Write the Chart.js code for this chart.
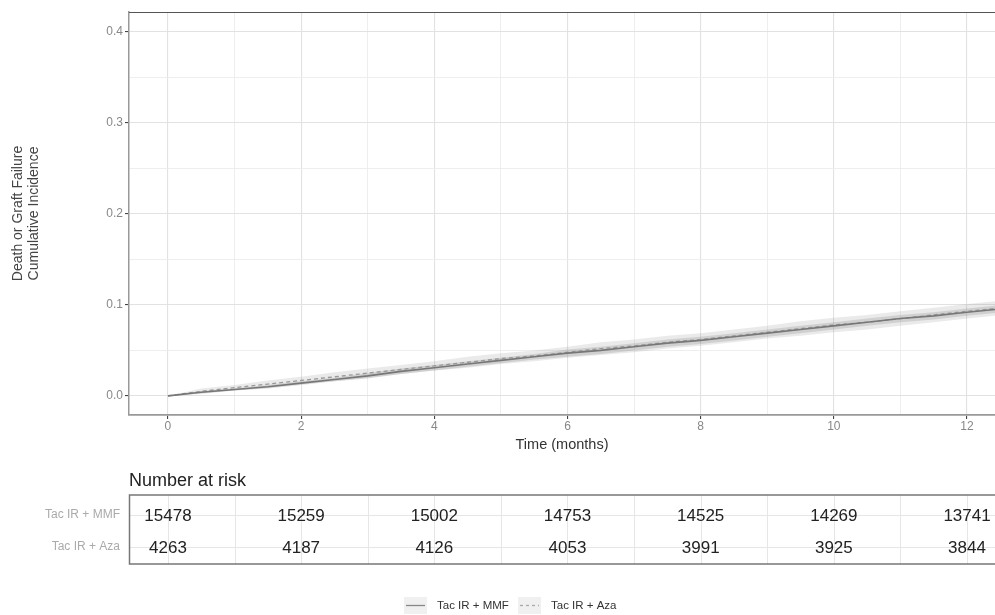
<!DOCTYPE html>
<html><head><meta charset="utf-8">
<script src="https://cdn.jsdelivr.net/npm/chart.js@4"></script>
<style>html,body{margin:0;padding:0;background:#fff;overflow:hidden}#wrap{width:995px;height:615px;position:relative}</style>
</head><body><div id="wrap"><canvas id="c" width="995" height="615"></canvas></div>
<script>
// ---- data ----
const months = [0,0.5,1,1.5,2,2.5,3,3.5,4,4.5,5,5.5,6,6.5,7,7.5,8,8.5,9,9.5,10,10.5,11,11.5,12,12.42];
const mmf    = [0,0.004,0.007,0.010,0.014,0.018,0.022,0.027,0.031,0.035,0.039,0.043,0.047,0.050,0.054,0.058,0.061,0.065,0.069,0.073,0.077,0.081,0.085,0.088,0.092,0.095];
const mmfLow = [0,0.003,0.006,0.008,0.012,0.016,0.019,0.024,0.028,0.032,0.036,0.040,0.043,0.046,0.050,0.054,0.057,0.061,0.065,0.069,0.073,0.077,0.081,0.084,0.088,0.091];
const mmfUp  = [0,0.005,0.008,0.012,0.016,0.020,0.025,0.030,0.034,0.038,0.042,0.046,0.051,0.054,0.058,0.062,0.065,0.069,0.073,0.077,0.081,0.085,0.089,0.092,0.096,0.099];
const aza    = [0,0.005,0.009,0.013,0.017,0.021,0.025,0.029,0.033,0.037,0.041,0.044,0.048,0.052,0.055,0.059,0.062,0.066,0.070,0.074,0.078,0.081,0.085,0.089,0.093,0.096];
const azaLow = [0,0.002,0.006,0.009,0.013,0.016,0.020,0.024,0.028,0.031,0.035,0.038,0.042,0.045,0.048,0.052,0.055,0.059,0.063,0.066,0.070,0.073,0.077,0.081,0.085,0.088];
const azaUp  = [0,0.008,0.012,0.017,0.021,0.026,0.030,0.034,0.038,0.043,0.047,0.050,0.054,0.059,0.062,0.066,0.069,0.073,0.077,0.082,0.086,0.089,0.093,0.097,0.101,0.104];

const groups = ['Tac IR + MMF', 'Tac IR + Aza'];
const xTickValues = [0,1,2,3,4,5,6,7,8,9,10,11,12];
const xMajorLabels = {0:'0',2:'2',4:'4',6:'6',8:'8',10:'10',12:'12'};
const yTickValues = [0,0.05,0.1,0.15,0.2,0.25,0.3,0.35,0.4];
const yMajorLabels = {'0':'0.0','0.1':'0.1','0.2':'0.2','0.3':'0.3','0.4':'0.4'};
const riskTimes = [0,2,4,6,8,10,12];
const riskMMF = [15478,15259,15002,14753,14525,14269,13741];
const riskAza = [4263,4187,4126,4053,3991,3925,3844];

const FONT = '"Liberation Sans", Arial, sans-serif';
const pts = (ys) => months.map((m,i) => ({x:m, y:ys[i]}));
const isMajorX = v => Object.prototype.hasOwnProperty.call(xMajorLabels, String(Math.round(v*100)/100));
const yKey = v => String(Math.round(v*100)/100);
const isMajorY = v => Object.prototype.hasOwnProperty.call(yMajorLabels, yKey(v)) && Math.abs(v*10 - Math.round(v*10)) < 1e-6;

const extras = {
  id: 'extras',
  afterDraw(chart) {
    const ctx = chart.ctx;
    const xs = chart.scales.x;
    const ca = chart.chartArea;
    ctx.save();
    // top panel border
    ctx.strokeStyle = '#555'; ctx.lineWidth = 1;
    ctx.beginPath(); ctx.moveTo(ca.left, ca.top + 0.5); ctx.lineTo(ca.right, ca.top + 0.5); ctx.stroke();

    // risk table
    const boxTop = 495, boxBot = 564, rowY = [515, 547];
    ctx.fillStyle = '#222';
    ctx.font = '18px ' + FONT;
    ctx.textAlign = 'left'; ctx.textBaseline = 'alphabetic';
    ctx.fillText('Number at risk', ca.left, 486);
    // grid inside table
    ctx.strokeStyle = '#e6e6e6'; ctx.lineWidth = 1;
    xTickValues.forEach(v => {
      const px = Math.round(xs.getPixelForValue(v)) + 0.5;
      ctx.beginPath(); ctx.moveTo(px, boxTop); ctx.lineTo(px, boxBot); ctx.stroke();
    });
    rowY.forEach(y => { ctx.beginPath(); ctx.moveTo(ca.left, y + 0.5); ctx.lineTo(ca.right, y + 0.5); ctx.stroke(); });
    // box
    ctx.strokeStyle = '#777'; ctx.lineWidth = 1.5;
    ctx.beginPath();
    ctx.moveTo(ca.right + 2, boxTop); ctx.lineTo(ca.left + 0.5, boxTop);
    ctx.lineTo(ca.left + 0.5, boxBot); ctx.lineTo(ca.right + 2, boxBot);
    ctx.stroke();
    // values
    ctx.fillStyle = '#222';
    ctx.font = '17px ' + FONT;
    ctx.textAlign = 'center'; ctx.textBaseline = 'middle';
    [riskMMF, riskAza].forEach((row, r) => {
      row.forEach((n, i) => ctx.fillText(String(n), xs.getPixelForValue(riskTimes[i]), rowY[r] + 1));
    });
    // row labels
    ctx.fillStyle = '#aaa';
    ctx.font = '12px ' + FONT;
    ctx.textAlign = 'right';
    groups.forEach((g, r) => ctx.fillText(g, ca.left - 9, rowY[r]));

    // legend
    const ly = 605;
    const keys = [{x:404, dash:[], color:'#888'}, {x:518, dash:[3,3], color:'#aaa'}];
    ctx.font = '11.5px ' + FONT;
    ctx.textAlign = 'left'; ctx.textBaseline = 'middle';
    keys.forEach((k, i) => {
      ctx.fillStyle = '#f0f0f0';
      ctx.fillRect(k.x, ly - 8, 23, 17);
      ctx.strokeStyle = k.color; ctx.lineWidth = 1.3; ctx.setLineDash(k.dash);
      ctx.beginPath(); ctx.moveTo(k.x + 2, ly + 0.5); ctx.lineTo(k.x + 21, ly + 0.5); ctx.stroke();
      ctx.setLineDash([]);
      ctx.fillStyle = '#333';
      ctx.fillText(groups[i], k.x + 33, ly + 1);
    });
    ctx.restore();
  }
};

new Chart(document.getElementById('c'), {
  type: 'line',
  data: {
    datasets: [
      { label: groups[0], data: pts(mmf), borderColor: '#777', borderWidth: 1.6, pointRadius: 0, fill: false, tension: 0 },
      { label: groups[1], data: pts(aza), borderColor: '#999', borderWidth: 1.3, borderDash: [4,3], pointRadius: 0, fill: false, tension: 0 },
      { label: 'mmfLow', data: pts(mmfLow), borderWidth: 0, pointRadius: 0, fill: false },
      { label: 'mmfUp', data: pts(mmfUp), borderWidth: 0, pointRadius: 0, fill: 2, backgroundColor: 'rgba(130,130,130,0.25)' },
      { label: 'azaLow', data: pts(azaLow), borderWidth: 0, pointRadius: 0, fill: false },
      { label: 'azaUp', data: pts(azaUp), borderWidth: 0, pointRadius: 0, fill: 4, backgroundColor: 'rgba(150,150,150,0.2)' }
    ]
  },
  options: {
    responsive: false, animation: false, devicePixelRatio: 1,
    layout: { padding: { left: 0, right: 0, top: 12, bottom: 160 } },
    plugins: { legend: { display: false }, tooltip: { enabled: false } },
    scales: {
      x: {
        type: 'linear', min: -0.585, max: 12.42,
        afterBuildTicks: s => { s.ticks = xTickValues.map(v => ({value: v})); },
        afterFit: s => { s.height = 40; },
        ticks: { callback: v => xMajorLabels[v] !== undefined ? xMajorLabels[v] : '', color: '#888', font: { size: 12, family: FONT }, padding: 0, maxRotation: 0, autoSkip: false },
        grid: {
          color: ctx => isMajorX(ctx.tick.value) ? '#e2e2e2' : '#ececec',
          lineWidth: ctx => isMajorX(ctx.tick.value) ? 1.1 : 0.9,
          tickColor: ctx => isMajorX(ctx.tick.value) ? '#444' : 'rgba(0,0,0,0)',
          tickLength: 4
        },
        border: { display: true, color: '#999', width: 1.8 },
        title: { display: true, text: 'Time (months)', color: '#333', font: { size: 14.5, family: FONT }, padding: { top: 0, bottom: 1 } }
      },
      y: {
        type: 'linear', min: -0.021, max: 0.422,
        afterBuildTicks: s => { s.ticks = yTickValues.map(v => ({value: v})); },
        afterFit: s => { s.width = 129; },
        ticks: { callback: v => { const k = yKey(v); return (isMajorY(v) && yMajorLabels[k]) ? yMajorLabels[k] : ''; }, color: '#888', font: { size: 12, family: FONT }, padding: 2, autoSkip: false },
        grid: {
          color: ctx => isMajorY(ctx.tick.value) ? '#e2e2e2' : '#ececec',
          lineWidth: ctx => isMajorY(ctx.tick.value) ? 1.1 : 0.9,
          tickColor: ctx => isMajorY(ctx.tick.value) ? '#444' : 'rgba(0,0,0,0)',
          tickLength: 4
        },
        border: { display: true, color: '#999', width: 1.5 },
        title: { display: true, text: ['Death or Graft Failure', 'Cumulative Incidence'], color: '#444', font: { size: 14, family: FONT, lineHeight: 1.15 }, padding: { top: 10, bottom: 0 } }
      }
    }
  },
  plugins: [extras]
});
</script>
</body></html>
